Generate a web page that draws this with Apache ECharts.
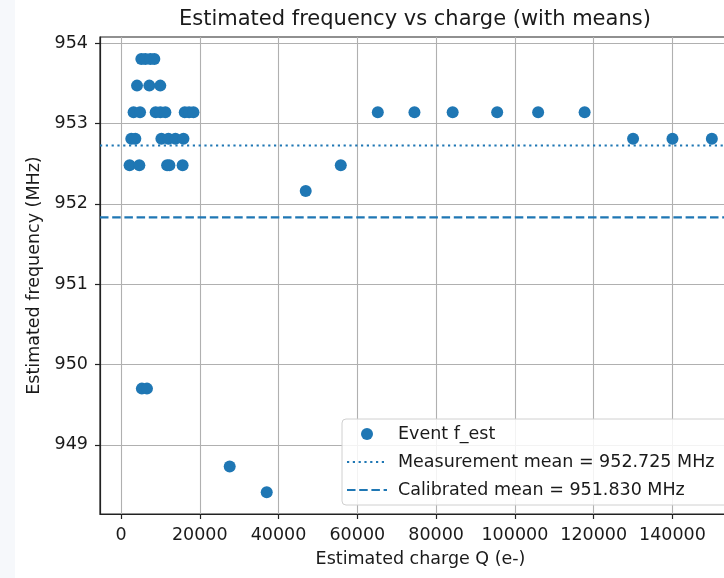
<!DOCTYPE html>
<html>
<head>
<meta charset="utf-8">
<script src="https://cdn.jsdelivr.net/npm/echarts@6/dist/echarts.min.js"></script>
<style>
  html, body { margin: 0; padding: 0; background: #fff; }
  #chart { width: 724px; height: 578px; }
</style>
</head>
<body>
<div id="chart"></div>
<script>
// event estimates: charge Q (e-) and estimated frequency (MHz)
const chargeQ = [
  5170, 6180, 7460, 8470,
  4070, 7200, 9980,
  3200, 4840, 8800, 10000, 11270, 16190, 17300, 18400,
  2620, 3640, 10260, 12040, 13820, 15860,
  2190, 4660, 11710, 12290, 15650,
  5300, 6600,
  27600, 37000, 46900, 55800,
  65200, 74500, 84200, 95500, 105900, 117700,
  130000, 140000, 150000
];
const freqEst = [
  953.80, 953.80, 953.80, 953.80,
  953.47, 953.47, 953.47,
  953.14, 953.14, 953.14, 953.14, 953.14, 953.14, 953.14, 953.14,
  952.81, 952.81, 952.81, 952.81, 952.81, 952.81,
  952.48, 952.48, 952.48, 952.48, 952.48,
  949.70, 949.70,
  948.73, 948.41, 952.16, 952.48,
  953.14, 953.14, 953.14, 953.14, 953.14, 953.14,
  952.81, 952.81, 952.81
];
const measMean = 952.725;
const calibMean = 951.830;

const xTicks = [0, 20000, 40000, 60000, 80000, 100000, 120000, 140000];
const yTicks = [949, 950, 951, 952, 953, 954];
const xLim = [-5325, 157400];
const yLim = [948.14, 954.075];

const blue = "#1f77b4";
const font = "DejaVu Sans";

const points = chargeQ.map((q, i) => [q, freqEst[i]]);
const measName = "Measurement mean = " + measMean.toFixed(3) + " MHz";
const calibName = "Calibrated mean = " + calibMean.toFixed(3) + " MHz";

const myChart = echarts.init(document.getElementById("chart"));
myChart.setOption({
  animation: false,
  backgroundColor: "#fff",
  textStyle: { fontFamily: font },
  graphic: [
    {
      type: "rect",
      left: 0, top: 0, z: -10,
      shape: { width: 15, height: 578 },
      style: { fill: "#f6f8fb" },
    },
  ],
  title: {
    text: "Estimated frequency vs charge (with means)",
    left: 174,
    top: 4,
    textStyle: { fontFamily: font, fontSize: 21, fontWeight: "normal", color: "#1a1a1a" },
  },
  grid: {
    left: 100,
    top: 37,
    width: 641,
    height: 477,
    outerBoundsMode: "none",
    containLabel: false,
    show: true,
    borderColor: "#222",
    borderWidth: 1.2,
    backgroundColor: "transparent",
  },
  legend: {
    orient: "vertical",
    left: 342,
    top: 419,
    padding: [6, 14, 6, 4],
    itemGap: 10,
    itemWidth: 40,
    itemHeight: 12,
    backgroundColor: "rgba(255,255,255,0.85)",
    borderColor: "#d0d0d0",
    borderWidth: 1,
    borderRadius: 4,
    textStyle: { fontFamily: font, fontSize: 17.5, color: "#1a1a1a", padding: [0, 0, 0, 6] },
    data: [
      { name: "Event f_est", icon: "circle" },
      { name: measName, itemStyle: { opacity: 0 } },
      { name: calibName, itemStyle: { opacity: 0 } },
    ],
  },
  xAxis: {
    type: "value",
    min: xLim[0],
    max: xLim[1],
    name: "Estimated charge Q (e-)",
    nameLocation: "middle",
    nameGap: 36,
    nameTextStyle: { fontFamily: font, fontSize: 17.5, color: "#1a1a1a" },
    axisLine: { show: true, onZero: false, lineStyle: { color: "#222", width: 1.2 } },
    axisTick: { show: true, length: 5, customValues: xTicks, lineStyle: { color: "#222", width: 1.2 } },
    axisLabel: {
      customValues: xTicks,
      margin: 12,
      fontFamily: font,
      fontSize: 17.5,
      color: "#1a1a1a",
      formatter: (v) => String(v),
    },
    splitLine: { show: true, lineStyle: { color: "#b0b0b0", width: 1.1 } },
  },
  yAxis: {
    type: "value",
    min: yLim[0],
    max: yLim[1],
    name: "Estimated frequency (MHz)",
    nameLocation: "middle",
    nameGap: 56,
    nameTextStyle: { fontFamily: font, fontSize: 17.5, color: "#1a1a1a" },
    axisLine: { show: true, onZero: false, lineStyle: { color: "#222", width: 1.2 } },
    axisTick: { show: true, length: 5, customValues: yTicks, lineStyle: { color: "#222", width: 1.2 } },
    axisLabel: {
      customValues: yTicks,
      margin: 12,
      fontFamily: font,
      fontSize: 17.5,
      color: "#1a1a1a",
      formatter: (v) => String(v),
    },
    splitLine: { show: true, lineStyle: { color: "#b0b0b0", width: 1.1 } },
  },
  series: [
    {
      name: "Event f_est",
      type: "scatter",
      symbol: "circle",
      symbolSize: 12,
      itemStyle: { color: blue, opacity: 1 },
      data: points,
      z: 3,
    },
    {
      name: measName,
      type: "line",
      symbol: "none",
      color: blue,
      lineStyle: { color: blue, width: 2.2, type: [2.2, 3.6] },
      data: [[xLim[0], measMean], [xLim[1], measMean]],
      z: 2,
    },
    {
      name: calibName,
      type: "line",
      symbol: "none",
      color: blue,
      lineStyle: { color: blue, width: 2.2, type: [8.5, 3.7] },
      data: [[xLim[0], calibMean], [xLim[1], calibMean]],
      z: 2,
    },
  ],
});
</script>
</body>
</html>
